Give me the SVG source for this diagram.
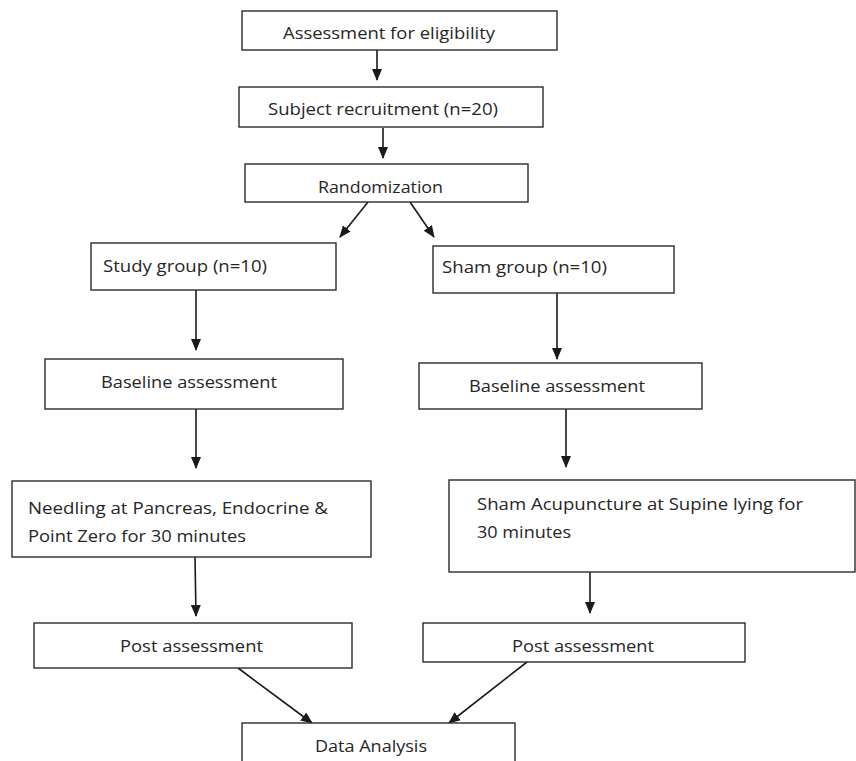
<svg xmlns="http://www.w3.org/2000/svg" width="856" height="761" viewBox="0 0 856 761">
<defs>
<style>
.box{fill:#fff;stroke:#2b2b2b;stroke-width:1.4}
.t{font-family:"Open Sans","Noto Sans",sans-serif;font-size:17px;fill:#262626}
.c{stroke:#1a1a1a;stroke-width:1.6;fill:none;marker-end:url(#ah)}
</style>
<marker id="ah" markerUnits="userSpaceOnUse" markerWidth="12" markerHeight="12" viewBox="0 0 12 12" refX="11" refY="6" orient="auto">
<path d="M0,1 L12,6 L0,11 Z" fill="#1a1a1a"/>
</marker>
</defs>
<rect width="856" height="761" fill="#fff"/>
<g id="connectors">
<line class="c" x1="377" y1="50" x2="377" y2="80"/>
<line class="c" x1="383" y1="128" x2="383" y2="158"/>
<line class="c" x1="368" y1="202" x2="340" y2="237"/>
<line class="c" x1="410" y1="202" x2="434" y2="237"/>
<line class="c" x1="196" y1="290" x2="196" y2="350"/>
<line class="c" x1="557" y1="293" x2="557" y2="359"/>
<line class="c" x1="196" y1="409" x2="196" y2="468"/>
<line class="c" x1="566" y1="409" x2="566" y2="467"/>
<line class="c" x1="195" y1="557" x2="196" y2="616"/>
<line class="c" x1="590" y1="572" x2="590" y2="613"/>
<line class="c" x1="238" y1="668" x2="312" y2="723"/>
<line class="c" x1="527" y1="662" x2="449" y2="723"/>
</g>
<g id="assess">
<rect class="box" x="242" y="11" width="315" height="39"/>
<text class="t" x="283" y="39" textLength="212" lengthAdjust="spacingAndGlyphs">Assessment for eligibility</text>
</g>
<g id="recruit">
<rect class="box" x="239" y="87" width="304" height="40"/>
<text class="t" x="268" y="115" textLength="230" lengthAdjust="spacingAndGlyphs">Subject  recruitment  (n=20)</text>
</g>
<g id="random">
<rect class="box" x="245" y="164" width="283" height="38"/>
<text class="t" x="318" y="193" textLength="125" lengthAdjust="spacingAndGlyphs">Randomization</text>
</g>
<g id="study">
<rect class="box" x="91" y="243" width="245" height="47"/>
<text class="t" x="103" y="272" textLength="164" lengthAdjust="spacingAndGlyphs">Study group (n=10)</text>
</g>
<g id="sham">
<rect class="box" x="433" y="246" width="241" height="47"/>
<text class="t" x="442" y="273" textLength="165" lengthAdjust="spacingAndGlyphs">Sham group (n=10)</text>
</g>
<g id="baseline-left">
<rect class="box" x="45" y="359" width="298" height="50"/>
<text class="t" x="101" y="388" textLength="176" lengthAdjust="spacingAndGlyphs">Baseline assessment</text>
</g>
<g id="baseline-right">
<rect class="box" x="419" y="363" width="283" height="46"/>
<text class="t" x="469" y="392" textLength="176" lengthAdjust="spacingAndGlyphs">Baseline assessment</text>
</g>
<g id="needling">
<rect class="box" x="12" y="481" width="359" height="76"/>
<text class="t" x="28" y="514" textLength="300" lengthAdjust="spacingAndGlyphs">Needling  at Pancreas, Endocrine  &amp;</text>
<text class="t" x="28" y="542" textLength="218" lengthAdjust="spacingAndGlyphs">Point  Zero for 30 minutes</text>
</g>
<g id="sham-acu">
<rect class="box" x="449" y="480" width="406" height="92"/>
<text class="t" x="477" y="510" textLength="326" lengthAdjust="spacingAndGlyphs">Sham  Acupuncture  at Supine  lying  for</text>
<text class="t" x="477" y="538" textLength="94" lengthAdjust="spacingAndGlyphs">30 minutes</text>
</g>
<g id="post-left">
<rect class="box" x="34" y="623" width="318" height="45"/>
<text class="t" x="120" y="652" textLength="143" lengthAdjust="spacingAndGlyphs">Post assessment</text>
</g>
<g id="post-right">
<rect class="box" x="423" y="623" width="322" height="39"/>
<text class="t" x="512" y="652" textLength="142" lengthAdjust="spacingAndGlyphs">Post assessment</text>
</g>
<g id="data">
<rect class="box" x="242" y="723" width="273" height="50"/>
<text class="t" x="315" y="752" textLength="112" lengthAdjust="spacingAndGlyphs">Data Analysis</text>
</g>
</svg>
